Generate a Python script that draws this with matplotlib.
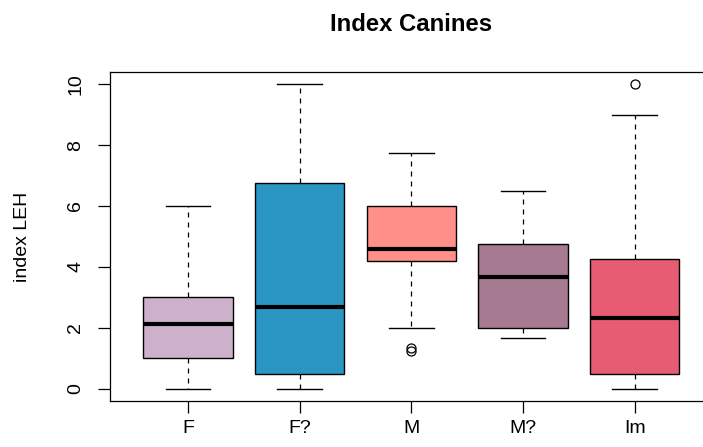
import matplotlib
matplotlib.use('Agg')
import matplotlib.pyplot as plt

plt.rcParams['font.family'] = ['Liberation Sans', 'DejaVu Sans']

groups = ['F', 'F?', 'M', 'M?', 'Im']
whis_low = [0.0, 0.0, 2.0, 1.67, 0.0]
q1 = [1.0, 0.5, 4.2, 2.0, 0.5]
medians = [2.13, 2.67, 4.6, 3.67, 2.33]
q3 = [3.0, 6.75, 6.0, 4.75, 4.25]
whis_high = [6.0, 10.0, 7.75, 6.5, 9.0]
outliers = [[], [], [1.25, 1.33], [], [10.0]]
colors = ['#CDB1CC', '#2B95C3', '#FF8F87', '#A67A90', '#E85C73']

stats = []
for i, g in enumerate(groups):
    stats.append({'label': g, 'whislo': whis_low[i], 'q1': q1[i], 'med': medians[i],
                  'q3': q3[i], 'whishi': whis_high[i], 'fliers': outliers[i]})

fig = plt.figure(figsize=(7.03, 4.47), dpi=100)
ax = fig.add_axes([110 / 703, 46 / 447, 602.8 / 703, 329 / 447])

bp = ax.bxp(stats, positions=range(1, 6), widths=0.8, capwidths=0.4,
            patch_artist=True,
            boxprops=dict(linewidth=1.0, edgecolor='black'),
            medianprops=dict(color='black', linewidth=3.0, solid_capstyle='butt'),
            whiskerprops=dict(color='black', linewidth=0.9, linestyle=(0, (4, 4))),
            capprops=dict(color='black', linewidth=1.0),
            flierprops=dict(marker='o', markerfacecolor='none', markeredgecolor='black',
                            markersize=6.5, markeredgewidth=0.9))
for patch, c in zip(bp['boxes'], colors):
    patch.set_facecolor(c)

ax.set_xlim(0.3, 5.7)
ax.set_ylim(-0.4, 10.4)
ax.set_yticks([0, 2, 4, 6, 8, 10])
ax.set_xticks(range(1, 6))
ax.set_xticklabels(groups)
ax.tick_params(axis='both', direction='out', length=8.6, width=0.9, labelsize=14)
ax.tick_params(axis='x', pad=5)
ax.tick_params(axis='y', pad=10)
for lab in ax.get_yticklabels():
    lab.set_rotation(90)
    lab.set_va('center')
for sp in ax.spines.values():
    sp.set_linewidth(0.9)

fig.text(23 / 703, 1 - 236.5 / 447, 'index LEH', rotation=90, ha='center', va='center', fontsize=14)
fig.text(411.4 / 703, 1 - 31 / 447, 'Index Canines', ha='center', va='baseline',
         fontsize=17.2, fontweight='bold')

fig.savefig('out.png', dpi=100)
